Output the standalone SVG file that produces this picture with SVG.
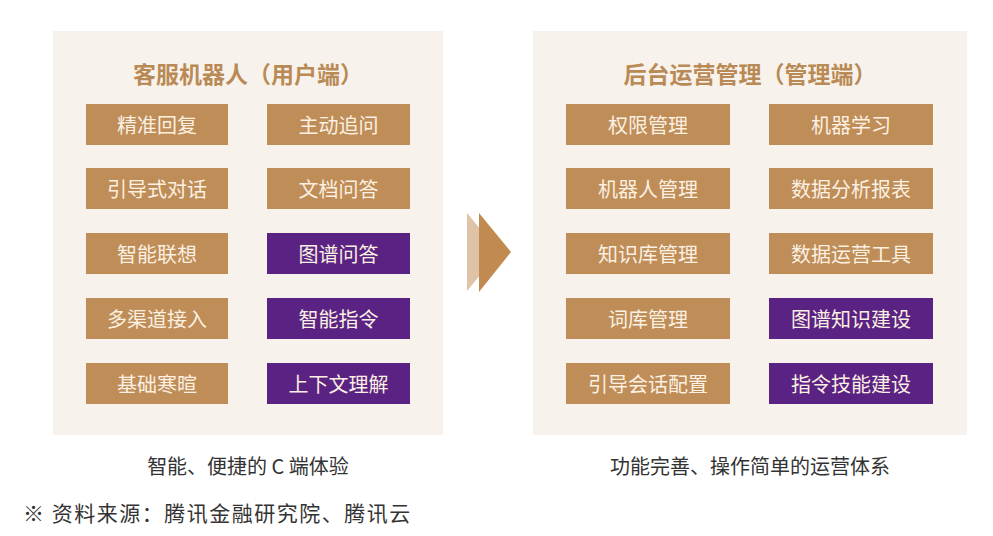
<svg xmlns="http://www.w3.org/2000/svg" width="993" height="536" viewBox="0 0 993 536">
<style>
.panel{fill:#F8F2EC}
.title{font-family:"Noto Sans CJK SC","Noto Sans",sans-serif;font-size:23px;font-weight:bold;fill:#B98A55;text-anchor:middle;dominant-baseline:central}
.tan{fill:#BF8D57}
.pur{fill:#5A2282}
.bt{font-family:"Noto Sans CJK SC","Noto Sans",sans-serif;font-size:20px;fill:#FBF0E2;text-anchor:middle;dominant-baseline:central}
.cap{font-family:"Noto Sans CJK SC","Liberation Sans",sans-serif;font-size:20px;fill:#333;text-anchor:middle;dominant-baseline:central}
.src{font-family:"Noto Sans CJK SC",serif;font-size:21px;letter-spacing:1.5px;fill:#333;dominant-baseline:central}
</style>
<rect width="993" height="536" fill="#FFFFFF"/>
<g id="left-panel">
<rect class="panel" x="53" y="31" width="390" height="404"/>
<text class="title" x="248" y="73">客服机器人（用户端）</text>
</g>
<g id="l1"><rect class="tan" x="86" y="104" width="142" height="41"/><text class="bt" x="157" y="124.5">精准回复</text></g>
<g id="l2"><rect class="tan" x="267" y="104" width="143" height="41"/><text class="bt" x="338.5" y="124.5">主动追问</text></g>
<g id="l3"><rect class="tan" x="86" y="168" width="142" height="41"/><text class="bt" x="157" y="188.5">引导式对话</text></g>
<g id="l4"><rect class="tan" x="267" y="168" width="143" height="41"/><text class="bt" x="338.5" y="188.5">文档问答</text></g>
<g id="l5"><rect class="tan" x="86" y="233" width="142" height="41"/><text class="bt" x="157" y="253.5">智能联想</text></g>
<g id="l6"><rect class="pur" x="267" y="233" width="143" height="41"/><text class="bt" x="338.5" y="253.5">图谱问答</text></g>
<g id="l7"><rect class="tan" x="86" y="298" width="142" height="41"/><text class="bt" x="157" y="318.5">多渠道接入</text></g>
<g id="l8"><rect class="pur" x="267" y="298" width="143" height="41"/><text class="bt" x="338.5" y="318.5">智能指令</text></g>
<g id="l9"><rect class="tan" x="86" y="363" width="142" height="41"/><text class="bt" x="157" y="383.5">基础寒暄</text></g>
<g id="l10"><rect class="pur" x="267" y="363" width="143" height="41"/><text class="bt" x="338.5" y="383.5">上下文理解</text></g>

<g id="right-panel">
<rect class="panel" x="533" y="31" width="434" height="404"/>
<text class="title" x="750" y="73">后台运营管理（管理端）</text>
</g>
<g id="r1"><rect class="tan" x="566" y="104" width="164" height="41"/><text class="bt" x="648" y="124.5">权限管理</text></g>
<g id="r2"><rect class="tan" x="769" y="104" width="164" height="41"/><text class="bt" x="851" y="124.5">机器学习</text></g>
<g id="r3"><rect class="tan" x="566" y="168" width="164" height="41"/><text class="bt" x="648" y="188.5">机器人管理</text></g>
<g id="r4"><rect class="tan" x="769" y="168" width="164" height="41"/><text class="bt" x="851" y="188.5">数据分析报表</text></g>
<g id="r5"><rect class="tan" x="566" y="233" width="164" height="41"/><text class="bt" x="648" y="253.5">知识库管理</text></g>
<g id="r6"><rect class="tan" x="769" y="233" width="164" height="41"/><text class="bt" x="851" y="253.5">数据运营工具</text></g>
<g id="r7"><rect class="tan" x="566" y="298" width="164" height="41"/><text class="bt" x="648" y="318.5">词库管理</text></g>
<g id="r8"><rect class="pur" x="769" y="298" width="164" height="41"/><text class="bt" x="851" y="318.5">图谱知识建设</text></g>
<g id="r9"><rect class="tan" x="566" y="363" width="164" height="41"/><text class="bt" x="648" y="383.5">引导会话配置</text></g>
<g id="r10"><rect class="pur" x="769" y="363" width="164" height="41"/><text class="bt" x="851" y="383.5">指令技能建设</text></g>

<g id="connectors">
<polygon points="467,213 467,291 499,252" fill="#DFC3A6"/>
<polygon points="479,213 479,292 511,252" fill="#C08A50"/>
</g>

<g id="captions">
<text class="cap" x="248" y="465">智能、便捷的 C 端体验</text>
<text class="cap" x="750" y="465">功能完善、操作简单的运营体系</text>
<text class="src" x="23" y="512">※ 资料来源：腾讯金融研究院、腾讯云</text>
</g>
</svg>
